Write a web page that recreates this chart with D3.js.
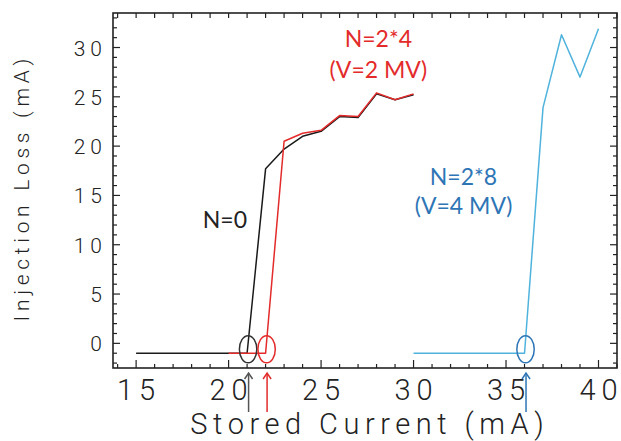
<!DOCTYPE html>
<html>
<head>
<meta charset="utf-8">
<script src="https://cdn.jsdelivr.net/npm/d3@7"></script>
<style>
  body { margin: 0; background: #fff; }
  .tick-label { font-family: Roboto, "DejaVu Sans", sans-serif; font-weight: 300; fill: #222; }
  .axis-title { font-family: Roboto, "DejaVu Sans", sans-serif; font-weight: 300; fill: #222; }
  .note { font-family: Lato, "Open Sans", sans-serif; font-size: 23px; }
</style>
</head>
<body>
<svg id="figure" width="621" height="441"></svg>
<script>
// stored current (mA) vs injection loss (mA)
const xNoHarm = [15, 16, 17, 18, 19, 20, 21, 22, 23, 24, 25, 26, 27, 28, 29, 30];
const yNoHarm = [-1, -1, -1, -1, -1, -1, -1, 17.7, 19.7, 21.0, 21.5, 23.0, 22.9, 25.3, 24.7, 25.2];

const xHarm4 = [20, 21, 22, 23, 24, 25, 26, 27, 28, 29, 30];
const yHarm4 = [-1, -1, -1, 20.5, 21.3, 21.6, 23.1, 23.0, 25.4, 24.7, 25.3];

const xHarm8 = [30, 31, 32, 33, 34, 35, 36, 37, 38, 39, 40];
const yHarm8 = [-1, -1, -1, -1, -1, -1, -1, 23.9, 31.3, 27.0, 31.9];

// threshold currents marked with circle + arrow
const thresholds = [21, 22, 36];
const thresholdColors = ["#333333", "#e32b2b", "#2e75b6"];

const xTickValues = [15, 20, 25, 30, 35, 40];
const yTickValues = [0, 5, 10, 15, 20, 25, 30];

// text notes, anchored in data units
const noteText = ["N=0", "N=2*4", "(V=2 MV)", "N=2*8", "(V=4 MV)"];
const noteX = [19.8, 28.1, 28.1, 32.7, 32.7];
const noteY = [11.7, 30.1, 26.9, 16.1, 13.1];
const noteColors = ["#222222", "#e32b2b", "#e32b2b", "#2e75b6", "#2e75b6"];

const W = 621, H = 441;
const margin = { left: 113, right: 4, top: 13, bottom: 73 };

const svg = d3.select("#figure");

const x = d3.scaleLinear().domain([13.75, 41]).range([margin.left, W - margin.right]);
const y = d3.scaleLinear().domain([-2.5, 33.5]).range([H - margin.bottom, margin.top]);

const x0 = margin.left, x1 = W - margin.right;
const y0 = H - margin.bottom, y1 = margin.top;

// wide-spaced text without trailing gap (so anchors stay centred)
function spaced(textSel, str, gap) {
    String(str).split("").forEach((c, i) => {
        textSel.append("tspan").attr("dx", i === 0 ? 0 : gap).text(c);
    });
}

// ticks on all four sides, pointing inward (IDL style)
const xMinor = d3.range(14, 41.01, 1);
const yMinor = d3.range(-2, 33.01, 1);

const tickG = svg.append("g").attr("stroke", "#222").attr("stroke-width", 1.2);

tickG.selectAll(".xb").data(xMinor).join("line")
    .attr("x1", d => x(d)).attr("x2", d => x(d))
    .attr("y1", y0).attr("y2", d => y0 - (d % 5 === 0 ? 8 : 4));

tickG.selectAll(".xt").data(xMinor).join("line")
    .attr("x1", d => x(d)).attr("x2", d => x(d))
    .attr("y1", y1).attr("y2", y1 + 5);

tickG.selectAll(".yl").data(yMinor).join("line")
    .attr("y1", d => y(d)).attr("y2", d => y(d))
    .attr("x1", x0).attr("x2", d => x0 + (d % 5 === 0 ? 7 : 4));

tickG.selectAll(".yr").data(yMinor).join("line")
    .attr("y1", d => y(d)).attr("y2", d => y(d))
    .attr("x1", x1).attr("x2", d => x1 - (d % 5 === 0 ? 7 : 4));

// frame
svg.append("rect")
    .attr("x", x0).attr("y", y1)
    .attr("width", x1 - x0).attr("height", y0 - y1)
    .attr("fill", "none").attr("stroke", "#222").attr("stroke-width", 1.6);

// tick labels
svg.append("g").selectAll("text").data(xTickValues).join("text")
    .attr("class", "tick-label")
    .attr("x", d => x(d))
    .attr("y", 400)
    .attr("text-anchor", "middle")
    .style("font-size", "29px")
    .each(function (d) { spaced(d3.select(this), d, 6); });

svg.append("g").selectAll("text").data(yTickValues).join("text")
    .attr("class", "tick-label")
    .attr("x", 102)
    .attr("y", d => y(d) + 8)
    .attr("text-anchor", "end")
    .style("font-size", "21px")
    .each(function (d) { spaced(d3.select(this), d, 5); });

// axis titles
svg.append("text")
    .attr("class", "axis-title")
    .attr("x", 367)
    .attr("y", 434)
    .attr("text-anchor", "middle")
    .style("font-size", "29px")
    .call(t => spaced(t, "Stored Current (mA)", 5.5));

svg.append("g")
    .attr("transform", "translate(29, 190) rotate(-90)")
    .append("text")
    .attr("class", "axis-title")
    .attr("text-anchor", "middle")
    .style("font-size", "21px")
    .call(t => spaced(t, "Injection Loss (mA)", 4.7));

// curves
const line = d3.line().x(d => x(d[0])).y(d => y(d[1]));

const series = [
    { xs: xNoHarm, ys: yNoHarm, color: "#1a1a1a" },
    { xs: xHarm4, ys: yHarm4, color: "#e32b2b" },
    { xs: xHarm8, ys: yHarm8, color: "#4fb3dd" }
];

svg.append("g").selectAll("path").data(series).join("path")
    .attr("d", s => line(d3.zip(s.xs, s.ys)))
    .attr("fill", "none")
    .attr("stroke", s => s.color)
    .attr("stroke-width", 1.5)
    .attr("stroke-linejoin", "round");

// circles around the threshold points
svg.append("g").selectAll("ellipse").data(thresholds).join("ellipse")
    .attr("cx", d => x(d) + 1)
    .attr("cy", y(-0.6))
    .attr("rx", 8.7)
    .attr("ry", 13.5)
    .attr("fill", "none")
    .attr("stroke", (d, i) => thresholdColors[i])
    .attr("stroke-width", 1.5);

// arrows below the axis
const arrows = svg.append("g").selectAll("g").data(thresholds).join("g")
    .attr("transform", d => `translate(${x(d) + 1.5}, 373)`)
    .attr("stroke", (d, i) => i === 0 ? "#555" : thresholdColors[i])
    .attr("stroke-width", 1.5)
    .attr("fill", "none");

arrows.append("line").attr("x1", 0).attr("x2", 0).attr("y1", 0).attr("y2", 39);
arrows.append("path").attr("d", "M-4,6 L0,0 L4,6");

// notes
svg.append("g").selectAll("text").data(noteText).join("text")
    .attr("class", "note")
    .attr("x", (d, i) => x(noteX[i]))
    .attr("y", (d, i) => y(noteY[i]))
    .attr("text-anchor", "middle")
    .attr("fill", (d, i) => noteColors[i])
    .text(d => d);
</script>
</body>
</html>
